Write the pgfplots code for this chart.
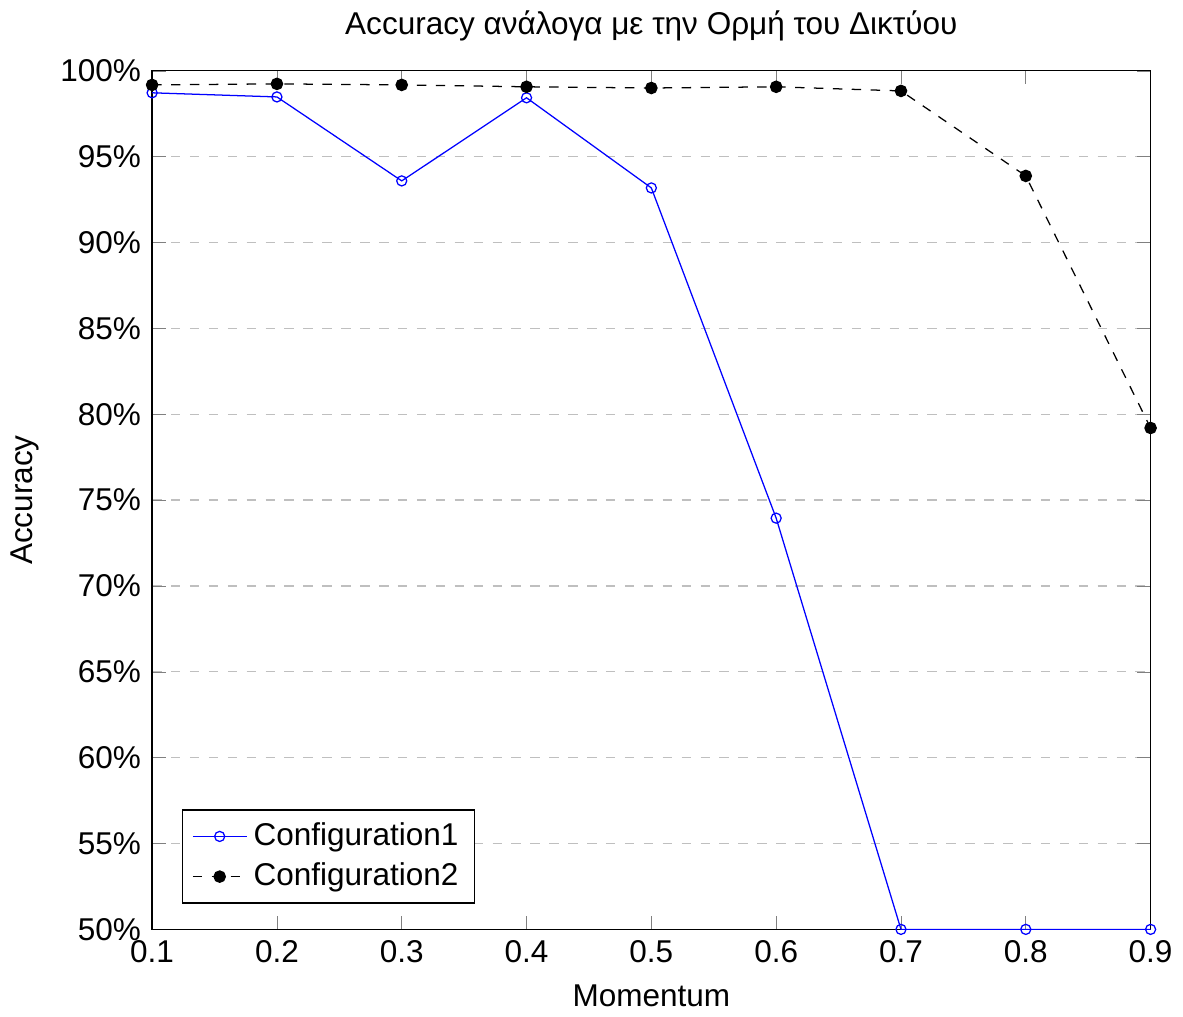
\documentclass[border=0pt]{standalone}
\usepackage{fontspec}
\setmainfont{Liberation Sans}
\usepackage{pgfplots}
\pgfplotsset{compat=1.18}
\begin{document}
\begin{tikzpicture}
\begin{axis}[
  scale only axis,
  width=316.8pt, height=272.4pt,
  xmin=0.1, xmax=0.9, ymin=50, ymax=100,
  xtick={0.1,0.2,0.3,0.4,0.5,0.6,0.7,0.8,0.9},
  xticklabels={0.1,0.2,0.3,0.4,0.5,0.6,0.7,0.8,0.9},
  ytick={50,55,60,65,70,75,80,85,90,95,100},
  yticklabel={\pgfmathprintnumber{\tick}\%},
  /pgf/number format/assume math mode=true,
  ymajorgrids,
  major grid style={dashed, gray!50},
  major tick style={gray},
  xlabel={Momentum}, ylabel={Accuracy},
  title={Accuracy ανάλογα με την Ορμή του Δικτύου},
  legend pos=south west,
  legend cell align=left,
  legend style={draw=black},
]
\addplot[blue, mark=o, mark size=1.6pt] coordinates {
 (0.1,98.72) (0.2,98.48) (0.3,93.59) (0.4,98.43) (0.5,93.18) (0.6,73.95) (0.7,50) (0.8,50) (0.9,50)};
\addlegendentry{Configuration1}
\addplot[black, dashed, mark=*, mark size=1.8pt, mark options={solid}] coordinates {
 (0.1,99.18) (0.2,99.24) (0.3,99.18) (0.4,99.07) (0.5,99.0) (0.6,99.07) (0.7,98.83) (0.8,93.88) (0.9,79.2)};
\addlegendentry{Configuration2}
\end{axis}
\end{tikzpicture}
\end{document}
